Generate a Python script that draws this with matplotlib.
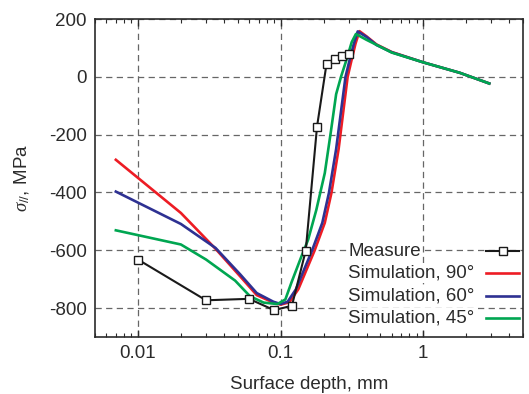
import matplotlib
matplotlib.use("Agg")
import matplotlib.pyplot as plt
from matplotlib.lines import Line2D
from matplotlib.ticker import FixedLocator, LogLocator, NullFormatter

plt.rcParams['font.family'] = ['Liberation Sans', 'DejaVu Sans']
plt.rcParams['axes.unicode_minus'] = False
plt.rcParams['mathtext.fontset'] = 'custom'
plt.rcParams['mathtext.it'] = 'Liberation Serif:italic'
plt.rcParams['mathtext.rm'] = 'Liberation Sans'

# Measured data
meas_x = [0.01, 0.03, 0.06, 0.09, 0.12, 0.15, 0.18, 0.21, 0.24, 0.27, 0.30]
meas_y = [-632, -773, -768, -807, -792, -601, -172, 46, 61, 72, 78]

# Simulation, 90 deg
s90_x = [0.007, 0.02, 0.035, 0.052, 0.068, 0.089, 0.1, 0.115, 0.133, 0.152, 0.173,
         0.204, 0.227, 0.255, 0.275, 0.295, 0.315, 0.335, 0.357, 0.4, 0.47, 0.6, 1.0, 1.8, 2.9]
s90_y = [-287, -471, -595, -690, -755, -781, -788, -780, -735, -667, -601,
         -505, -402, -250, -120, 0, 60, 115, 158, 140, 112, 86, 50, 14, -23]

# Simulation, 60 deg
s60_x = [0.007, 0.02, 0.035, 0.052, 0.068, 0.089, 0.1, 0.112, 0.128, 0.146, 0.166,
         0.196, 0.218, 0.245, 0.265, 0.285, 0.305, 0.325, 0.347, 0.4, 0.47, 0.6, 1.0, 1.8, 2.9]
s60_y = [-397, -509, -592, -683, -748, -778, -786, -778, -735, -667, -601,
         -505, -402, -250, -120, 0, 60, 112, 157, 138, 110, 85, 50, 14, -23]

# Simulation, 45 deg
s45_x = [0.007, 0.02, 0.03, 0.048, 0.061, 0.076, 0.095, 0.108, 0.119, 0.14, 0.156,
         0.178, 0.204, 0.225, 0.245, 0.265, 0.29, 0.315, 0.337, 0.4, 0.5, 0.6, 1.0, 1.8, 2.9]
s45_y = [-531, -580, -632, -705, -759, -781, -786, -770, -712, -621, -563,
         -460, -333, -190, -60, 0, 60, 120, 148, 128, 104, 84, 50, 14, -23]

xticks = [0.01, 0.1, 1]
xticklabels = ['0.01', '0.1', '1']
yticks = [-800, -600, -400, -200, 0, 200]
yticklabels = ['-800', '-600', '-400', '-200', '0', '200']
legend_labels = ['Measure', 'Simulation, 90°', 'Simulation, 60°', 'Simulation, 45°']

W, H = 529, 394
txt = '#2b2b2b'
fs = 13.5
fig = plt.figure(figsize=(W / 100, H / 100), dpi=100)
ax = fig.add_axes([95/W, 1-337/H, 428/W, (337-19)/H])

ax.set_xscale('log')
ax.set_xlim(0.005, 5)
ax.set_ylim(-900, 200)

red, blue, green = '#ed1c24', '#2e3192', '#00a651'
l90, = ax.plot(s90_x, s90_y, color=red, lw=1.9, zorder=3)
l60, = ax.plot(s60_x, s60_y, color=blue, lw=1.9, zorder=4)
l45, = ax.plot(s45_x, s45_y, color=green, lw=1.9, zorder=5)
lm, = ax.plot(meas_x, meas_y, color='#1a1a1a', lw=1.5, marker='s', ms=6,
              mfc='white', mec='#1a1a1a', mew=1.0, zorder=6)

ax.xaxis.set_major_locator(FixedLocator(xticks))
ax.set_xticklabels(xticklabels)
ax.xaxis.set_minor_locator(LogLocator(base=10, subs=range(2, 10)))
ax.xaxis.set_minor_formatter(NullFormatter())
ax.set_yticks(yticks)
ax.set_yticklabels(yticklabels)

ax.grid(True, which='major', color='#666666', linestyle=(0, (5, 3.5)), lw=0.9)
ax.tick_params(axis='x', which='both', direction='in', top=True, bottom=True,
               colors=txt, labelsize=fs, pad=6)
ax.tick_params(axis='x', which='major', length=5, width=1)
ax.tick_params(axis='x', which='minor', length=3, width=0.8)
ax.tick_params(axis='y', which='both', length=0, colors=txt, labelsize=fs, pad=6)
for s in ax.spines.values():
    s.set_color('#2b2b2b')
    s.set_linewidth(1.2)

ax.set_xlabel('Surface depth, mm', fontsize=fs, color=txt, labelpad=10)
ax.set_ylabel(r'$\sigma_{//}$, MPa', fontsize=fs, color=txt, labelpad=12)

# Legend: labels left-aligned, handles on the right
row_y = [251, 273, 296, 318]
line_styles = [dict(color='#1a1a1a', lw=1.5), dict(color=red, lw=1.9),
               dict(color=blue, lw=1.9), dict(color=green, lw=1.9)]
for i, (lab, yy, st) in enumerate(zip(legend_labels, row_y, line_styles)):
    fig.text(348/W, 1-yy/H, lab, fontsize=fs, color=txt, ha='left', va='center',
             zorder=10, bbox=dict(facecolor='white', edgecolor='none', pad=1.0))
    fig.add_artist(Line2D([486/W, 519/W], [1-yy/H, 1-yy/H],
                          transform=fig.transFigure, zorder=10, **st))
    if i == 0:
        fig.add_artist(Line2D([502.5/W], [1-yy/H], transform=fig.transFigure,
                              ls='none', marker='s', ms=6, mfc='white',
                              mec='#1a1a1a', mew=1.0, zorder=11))

fig.savefig('out.png', dpi=100)
